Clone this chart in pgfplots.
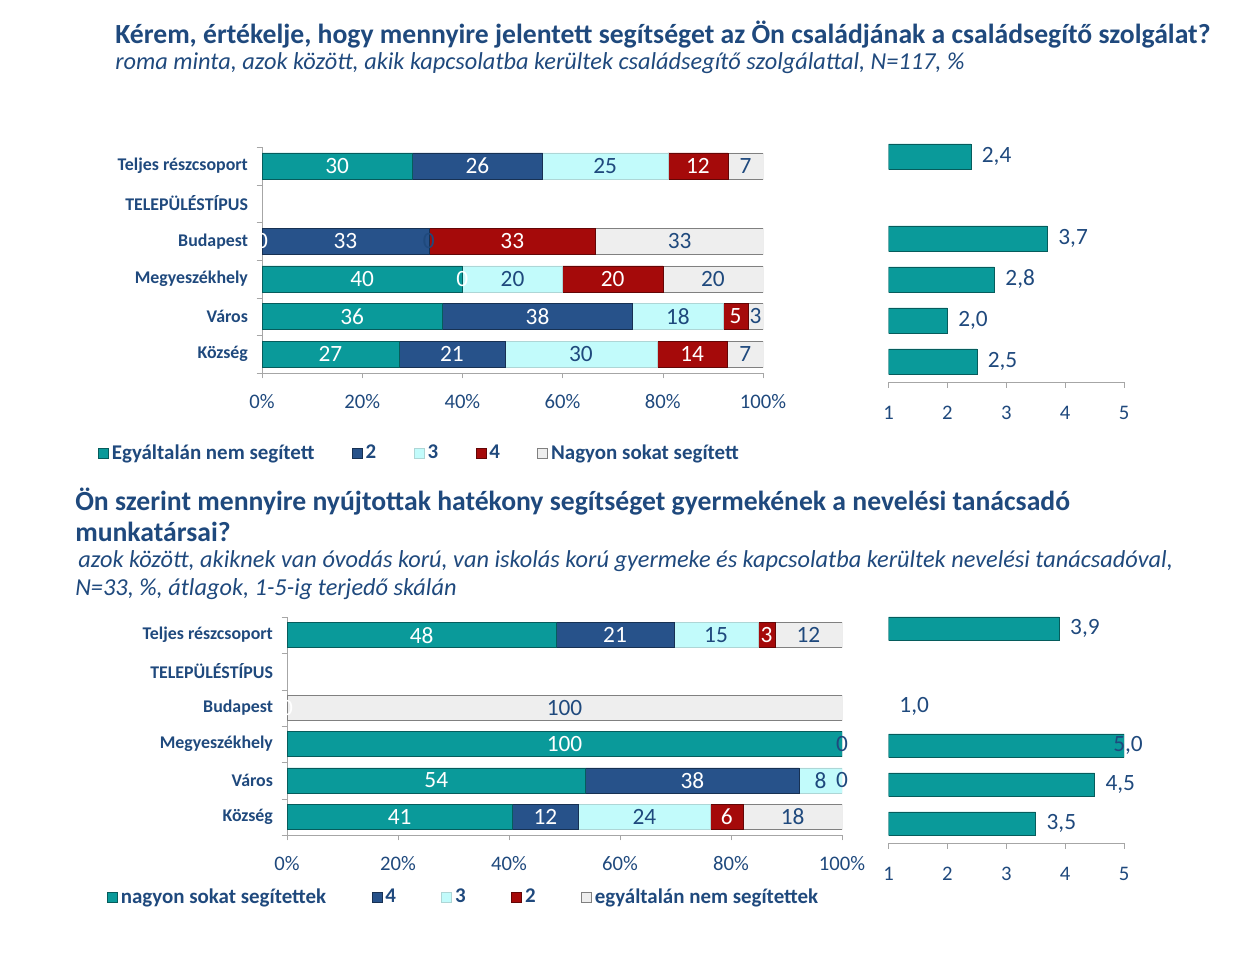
\documentclass[border=0pt]{standalone}
\usepackage{fontspec}
\setmainfont{Carlito}
\usepackage{pgfplots}
\pgfplotsset{compat=1.18}
\usepackage{pgfplotstable}
\definecolor{cteal}{HTML}{0A9A9A}
\definecolor{cblue}{HTML}{27528A}
\definecolor{ccyan}{HTML}{C2FBFB}
\definecolor{cred}{HTML}{A50A0A}
\definecolor{cgrey}{HTML}{EEEEEE}
\definecolor{tblue}{HTML}{1F497D}
\definecolor{agray}{HTML}{A6A6A6}
\newcommand\fs[1]{\fontsize{#1}{#1}\selectfont}
\pgfplotsset{
  lgd/.style={legend image code/.code={\fill[##1] (0pt,-3.75pt) rectangle (7.5pt,3.75pt);}},
  stackaxis/.style={scale only axis, xbar stacked, xmin=0, xmax=100, ymin=-0.5, ymax=5.5,
    enlargelimits=false, axis x line*=bottom, axis y line*=left, axis line style={agray},
    xtick={0,20,40,60,80,100}, xticklabels={0\%,20\%,40\%,60\%,80\%,100\%},
    minor xtick={0,20,40,60,80,100},
    ytick={0,1,2,3,4,5},
    yticklabels={Község,Város,Megyeszékhely,Budapest,TELEPÜLÉSTÍPUS,Teljes részcsoport},
    minor ytick={-0.5,0.5,1.5,2.5,3.5,4.5,5.5},
    tick align=outside, major tick length=0pt, minor tick length=4pt,
    tick style={agray},
    xticklabel style={font=\fs{15.5}, text=tblue, yshift=-12.75pt},
    yticklabel style={font=\fs{13.4}\bfseries, text=tblue, xshift=-7pt},
    legend columns=5,
    legend style={draw=none, fill=none, inner sep=0pt, outer sep=0pt,
      font=\fs{15.7}\bfseries, text=tblue,
      nodes={inner sep=1.5pt},
      /tikz/every odd column/.append style={column sep=1pt}},
  },
  labaxis/.style={scale only axis, hide axis, clip=false, ymin=-0.5, ymax=5.5, enlargelimits=false},
  lw/.style={draw=none, mark=none, nodes near coords, point meta=explicit symbolic,
    every node near coord/.append style={anchor=center, font=\fs{17.5}, text=#1, inner sep=0pt}},
  meanaxis/.style={scale only axis, xbar, xmin=1, xmax=5, ymin=-0.5, ymax=5.5,
    enlargelimits=false, axis x line*=bottom, axis y line=none, axis line style={agray},
    xtick={1,2,3,4,5}, xticklabels={1,2,3,4,5}, minor xtick={1,2,3,4,5}, ytick=\empty,
    tick align=outside, major tick length=0pt, minor tick length=4.5pt, tick style={agray},
    xticklabel style={font=\fs{15.5}, text=tblue, yshift=-14.5pt}},
  mlab/.style={draw=none, mark=none, nodes near coords, point meta=explicit symbolic,
    visualization depends on={\thisrow{dx}\as\dx},
    every node near coord/.append style={anchor=west, font=\fs{17.5}, text=tblue, inner sep=0pt, xshift=\dx pt}},
}
\begin{document}
\begin{tikzpicture}
\path[use as bounding box] (0,0) rectangle (936.75pt,730.5pt);

% ---------- titles ----------
\node[anchor=base west, inner sep=0pt, text=tblue, font=\fs{20.75}\bfseries] at (86.25pt,697.5pt)
  {Kérem, értékelje, hogy mennyire jelentett segítséget az Ön családjának a családsegítő szolgálat?};
\node[anchor=base west, inner sep=0pt, text=tblue, font=\fs{18.25}\itshape] at (86.25pt,678pt)
  {roma minta, azok között, akik kapcsolatba kerültek családsegítő szolgálattal, N=117, \%};
\node[anchor=base west, inner sep=0pt, text=tblue, font=\fs{20.75}\bfseries] at (56.25pt,347.25pt)
  {Ön szerint mennyire nyújtottak hatékony segítséget gyermekének a nevelési tanácsadó};
\node[anchor=base west, inner sep=0pt, text=tblue, font=\fs{20.75}\bfseries] at (56.25pt,324pt)
  {munkatársai?};
\node[anchor=base west, inner sep=0pt, text=tblue, font=\fs{18.25}\itshape] at (58.5pt,304.5pt)
  {azok között, akiknek van óvodás korú, van iskolás korú gyermeke és kapcsolatba kerültek nevelési tanácsadóval,};
\node[anchor=base west, inner sep=0pt, text=tblue, font=\fs{18.25}\itshape] at (56.25pt,283.5pt)
  {N=33, \%, átlagok, 1-5-ig terjedő skálán};

% ---------- chart 1 stacked ----------
\begin{axis}[stackaxis, at={(196.5pt,450.75pt)}, anchor=south west,
  width=375.75pt, height=169.5pt, bar width=19.5pt,
  legend style={at={(-0.3273,-0.354)}, anchor=west,
    /tikz/every even column/.append style={column sep=26.5pt}}]
\addplot[fill=cteal, draw=cteal!60!black, lgd] coordinates {(30,5) (0,3) (40,2) (36,1) (27.3,0)};
\addlegendentry{Egyáltalán nem segített}
\addplot[fill=cblue, draw=cblue!60!black, lgd] coordinates {(26,5) (33.3,3) (0,2) (38,1) (21.2,0)};
\addlegendentry{2}
\addplot[fill=ccyan, draw=ccyan!70!gray, lgd] coordinates {(25,5) (0,3) (20,2) (18,1) (30.3,0)};
\addlegendentry{3}
\addplot[fill=cred, draw=cred!60!black, lgd] coordinates {(12,5) (33.3,3) (20,2) (5,1) (14.1,0)};
\addlegendentry{4}
\addplot[fill=cgrey, draw=gray, lgd] coordinates {(7,5) (33.4,3) (20,2) (3,1) (7.1,0)};
\addlegendentry{Nagyon sokat segített}
\end{axis}
\begin{axis}[labaxis, at={(196.5pt,450.75pt)}, anchor=south west,
  width=375.75pt, height=169.5pt, xmin=0, xmax=100]
\addplot[lw=white] table[meta=l] {
x y l
15 5 30
0 3 0
20 2 40
18 1 36
13.65 0 27
43 5 26
16.65 3 33
40 2 0
55 1 38
37.9 0 21
87 5 12
49.95 3 33
70 2 20
94.5 1 5
85.85 0 14
};
\addplot[lw=tblue] table[meta=l] {
x y l
68.5 5 25
33.3 3 0
50 2 20
83 1 18
63.65 0 30
96.5 5 7
83.35 3 33
90 2 20
98.5 1 3
96.45 0 7
};
\end{axis}

% ---------- chart 1 means ----------
\begin{axis}[meanaxis, at={(666.375pt,444pt)}, anchor=south west,
  width=176.625pt, height=184.5pt, bar width=18.75pt]
\addplot[fill=cteal, draw=cteal!60!black] coordinates {(2.4,5) (3.7,3) (2.8,2) (2.0,1) (2.5,0)};
\end{axis}
\begin{axis}[labaxis, at={(666.375pt,444pt)}, anchor=south west,
  width=176.625pt, height=184.5pt, xmin=1, xmax=5]
\addplot[mlab] table[meta=l] {
x y l dx
2.4 5 2,4 8
3.7 3 3,7 8
2.8 2 2,8 8
2.0 1 2,0 8
2.5 0 2,5 8
};
\end{axis}

% ---------- chart 2 stacked ----------
\begin{axis}[stackaxis, at={(215.25pt,104.25pt)}, anchor=south west,
  width=416.25pt, height=163.5pt, bar width=18.75pt,
  legend style={at={(-0.3243,-0.2844)}, anchor=west,
    /tikz/every even column/.append style={column sep=32.5pt}}]
\addplot[fill=cteal, draw=cteal!60!black, lgd] coordinates {(48.5,5) (0,3) (100,2) (53.8,1) (40.6,0)};
\addlegendentry{nagyon sokat segítettek}
\addplot[fill=cblue, draw=cblue!60!black, lgd] coordinates {(21.2,5) (0,3) (0,2) (38.5,1) (11.9,0)};
\addlegendentry{4}
\addplot[fill=ccyan, draw=ccyan!70!gray, lgd] coordinates {(15.2,5) (0,3) (0,2) (7.7,1) (23.8,0)};
\addlegendentry{3}
\addplot[fill=cred, draw=cred!60!black, lgd] coordinates {(3,5) (0,3) (0,2) (0,1) (5.9,0)};
\addlegendentry{2}
\addplot[fill=cgrey, draw=gray, lgd] coordinates {(12.1,5) (100,3) (0,2) (0,1) (17.8,0)};
\addlegendentry{egyáltalán nem segítettek}
\end{axis}
\begin{axis}[labaxis, at={(215.25pt,104.25pt)}, anchor=south west,
  width=416.25pt, height=163.5pt, xmin=0, xmax=100]
\addplot[lw=white] table[meta=l] {
x y l
24.25 5 48
0 3 0
50 2 100
26.9 1 54
20.3 0 41
59.1 5 21
73.05 1 38
46.55 0 12
86.4 5 3
79.25 0 6
};
\addplot[lw=tblue] table[meta=l] {
x y l
77.3 5 15
96.15 1 8
64.4 0 24
93.95 5 12
50 3 100
100 2 0
100 1 0
91.1 0 18
};
\end{axis}

% ---------- chart 2 means ----------
\begin{axis}[meanaxis, at={(666.375pt,98.25pt)}, anchor=south west,
  width=176.625pt, height=175.5pt, bar width=17.25pt]
\addplot[fill=cteal, draw=cteal!60!black] coordinates {(3.9,5) (5.0,2) (4.5,1) (3.5,0)};
\end{axis}
\begin{axis}[labaxis, at={(666.375pt,98.25pt)}, anchor=south west,
  width=176.625pt, height=175.5pt, xmin=1, xmax=5]
\addplot[mlab] table[meta=l] {
x y l dx
3.9 5 3,9 8
1.0 3 1,0 8
5.0 2 5,0 -8.25
4.5 1 4,5 8
3.5 0 3,5 8
};
\end{axis}
\end{tikzpicture}
\end{document}
